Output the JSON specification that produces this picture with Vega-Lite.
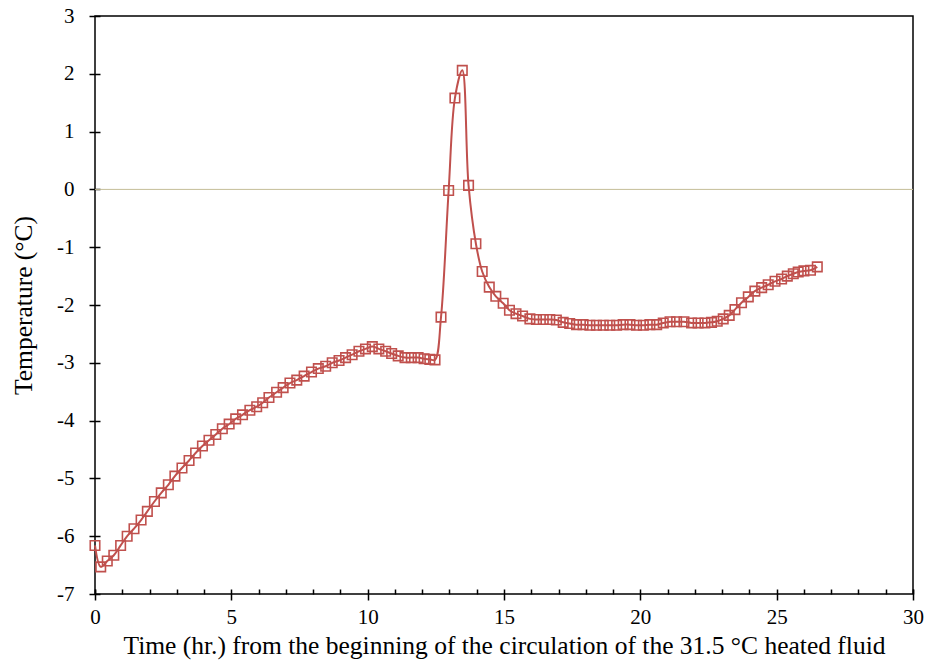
{
  "$schema": "https://vega.github.io/schema/vega-lite/v6.json",
  "autosize": "none",
  "width": 818,
  "height": 578,
  "padding": {"left": 95, "top": 16, "right": 17, "bottom": 75},
  "config": {
    "view": {"stroke": "black", "strokeWidth": 1.5},
    "font": "Liberation Serif",
    "axis": {"grid": false, "domain": false, "tickColor": "black", "tickWidth": 1.5,
             "labelFont": "Liberation Serif", "titleFont": "Liberation Serif", "labelFontSize": 21, "titleFontSize": 25.5,
             "labelColor": "black", "titleColor": "black", "titleFontWeight": "normal",
             "labelFlush": false, "labelOverlap": false}
  },
  "datasets": {
    "temps": [
      {"t": 0.00, "temp": -6.16}, {"t": 0.21, "temp": -6.53}, {"t": 0.45, "temp": -6.43}, {"t": 0.69, "temp": -6.33},
      {"t": 0.94, "temp": -6.16}, {"t": 1.18, "temp": -6.00}, {"t": 1.43, "temp": -5.87}, {"t": 1.69, "temp": -5.72},
      {"t": 1.92, "temp": -5.57}, {"t": 2.18, "temp": -5.40}, {"t": 2.43, "temp": -5.25}, {"t": 2.69, "temp": -5.11},
      {"t": 2.93, "temp": -4.96}, {"t": 3.19, "temp": -4.82}, {"t": 3.45, "temp": -4.69}, {"t": 3.69, "temp": -4.56},
      {"t": 3.94, "temp": -4.44}, {"t": 4.18, "temp": -4.34}, {"t": 4.43, "temp": -4.24}, {"t": 4.67, "temp": -4.14},
      {"t": 4.92, "temp": -4.06}, {"t": 5.16, "temp": -3.97}, {"t": 5.41, "temp": -3.90}, {"t": 5.68, "temp": -3.82},
      {"t": 5.93, "temp": -3.76}, {"t": 6.15, "temp": -3.69}, {"t": 6.38, "temp": -3.60}, {"t": 6.66, "temp": -3.51},
      {"t": 6.90, "temp": -3.43}, {"t": 7.15, "temp": -3.35}, {"t": 7.40, "temp": -3.30}, {"t": 7.67, "temp": -3.23},
      {"t": 7.94, "temp": -3.16}, {"t": 8.19, "temp": -3.10}, {"t": 8.46, "temp": -3.06}, {"t": 8.70, "temp": -3.00},
      {"t": 8.95, "temp": -2.96}, {"t": 9.19, "temp": -2.91}, {"t": 9.43, "temp": -2.86}, {"t": 9.68, "temp": -2.80},
      {"t": 9.92, "temp": -2.76}, {"t": 10.17, "temp": -2.72}, {"t": 10.41, "temp": -2.76}, {"t": 10.66, "temp": -2.80},
      {"t": 10.88, "temp": -2.84}, {"t": 11.12, "temp": -2.88}, {"t": 11.37, "temp": -2.91}, {"t": 11.60, "temp": -2.91},
      {"t": 11.85, "temp": -2.91}, {"t": 12.07, "temp": -2.93}, {"t": 12.28, "temp": -2.94}, {"t": 12.47, "temp": -2.95},
      {"t": 12.69, "temp": -2.21}, {"t": 12.97, "temp": -0.02}, {"t": 13.20, "temp": 1.58}, {"t": 13.47, "temp": 2.06},
      {"t": 13.70, "temp": 0.07}, {"t": 13.97, "temp": -0.94}, {"t": 14.20, "temp": -1.42}, {"t": 14.46, "temp": -1.69},
      {"t": 14.70, "temp": -1.85}, {"t": 14.97, "temp": -1.97}, {"t": 15.20, "temp": -2.09}, {"t": 15.44, "temp": -2.15},
      {"t": 15.68, "temp": -2.19}, {"t": 15.95, "temp": -2.24}, {"t": 16.19, "temp": -2.25}, {"t": 16.44, "temp": -2.25},
      {"t": 16.68, "temp": -2.25}, {"t": 16.92, "temp": -2.26}, {"t": 17.17, "temp": -2.30}, {"t": 17.41, "temp": -2.32},
      {"t": 17.66, "temp": -2.34}, {"t": 17.90, "temp": -2.34}, {"t": 18.15, "temp": -2.35}, {"t": 18.39, "temp": -2.35},
      {"t": 18.64, "temp": -2.35}, {"t": 18.88, "temp": -2.35}, {"t": 19.13, "temp": -2.35}, {"t": 19.37, "temp": -2.34},
      {"t": 19.62, "temp": -2.34}, {"t": 19.86, "temp": -2.35}, {"t": 20.11, "temp": -2.35}, {"t": 20.35, "temp": -2.34},
      {"t": 20.60, "temp": -2.34}, {"t": 20.84, "temp": -2.31}, {"t": 21.09, "temp": -2.29}, {"t": 21.33, "temp": -2.29},
      {"t": 21.60, "temp": -2.29}, {"t": 21.88, "temp": -2.31}, {"t": 22.12, "temp": -2.31}, {"t": 22.37, "temp": -2.31},
      {"t": 22.61, "temp": -2.30}, {"t": 22.82, "temp": -2.28}, {"t": 23.04, "temp": -2.24}, {"t": 23.26, "temp": -2.18},
      {"t": 23.47, "temp": -2.08}, {"t": 23.71, "temp": -1.96}, {"t": 23.96, "temp": -1.86}, {"t": 24.20, "temp": -1.76},
      {"t": 24.45, "temp": -1.70}, {"t": 24.69, "temp": -1.65}, {"t": 24.94, "temp": -1.59}, {"t": 25.18, "temp": -1.55},
      {"t": 25.39, "temp": -1.50}, {"t": 25.61, "temp": -1.46}, {"t": 25.79, "temp": -1.43}, {"t": 26.00, "temp": -1.41},
      {"t": 26.24, "temp": -1.40}, {"t": 26.49, "temp": -1.34}
    ],
    "zero": [{"level": 0}]
  },
  "resolve": {"axis": {"x": "independent"}},
  "layer": [
    {
      "data": {"name": "zero"},
      "mark": {"type": "rule", "color": "#C4BD97", "strokeWidth": 1},
      "encoding": {
        "y": {"field": "level", "type": "quantitative", "scale": {"domain": [-7, 3], "nice": false}}
      }
    },
    {
      "data": {"name": "temps"},
      "mark": {"type": "line", "interpolate": "catmull-rom", "color": "#C0504D", "strokeWidth": 2},
      "encoding": {
        "x": {"field": "t", "type": "quantitative", "scale": {"domain": [0, 30], "nice": false},
              "axis": {"orient": "bottom", "offset": -5, "values": [0,5,10,15,20,25,30], "tickSize": 11,
                       "labelPadding": 6, "labelExpr": "'' + datum.value", "titlePadding": 6,
                       "title": "Time (hr.) from the beginning of the circulation of the 31.5 °C heated fluid"}},
        "y": {"field": "temp", "type": "quantitative", "scale": {"domain": [-7, 3], "nice": false},
              "axis": {"orient": "left", "offset": -5,
                       "values": [-7,-6,-5,-4,-3,-2,-1,0,1,2,3], "tickSize": 11, "labelPadding": 15,
                       "labelExpr": "'' + datum.value", "titlePadding": 20, "title": "Temperature (°C)"}}
      }
    },
    {
      "data": {"name": "temps"},
      "mark": {"type": "point", "shape": "square", "filled": false, "color": "#C0504D", "size": 90, "strokeWidth": 1.6, "opacity": 1},
      "encoding": {
        "x": {"field": "t", "type": "quantitative", "scale": {"domain": [0, 30], "nice": false},
              "axis": {"orient": "bottom", "offset": -5,
                       "values": [0,1,2,3,4,6,7,8,9,11,12,13,14,16,17,18,19,21,22,23,24,26,27,28,29,30],
                       "tickSize": 5, "labels": false, "title": null}},
        "y": {"field": "temp", "type": "quantitative"}
      }
    }
  ]
}
